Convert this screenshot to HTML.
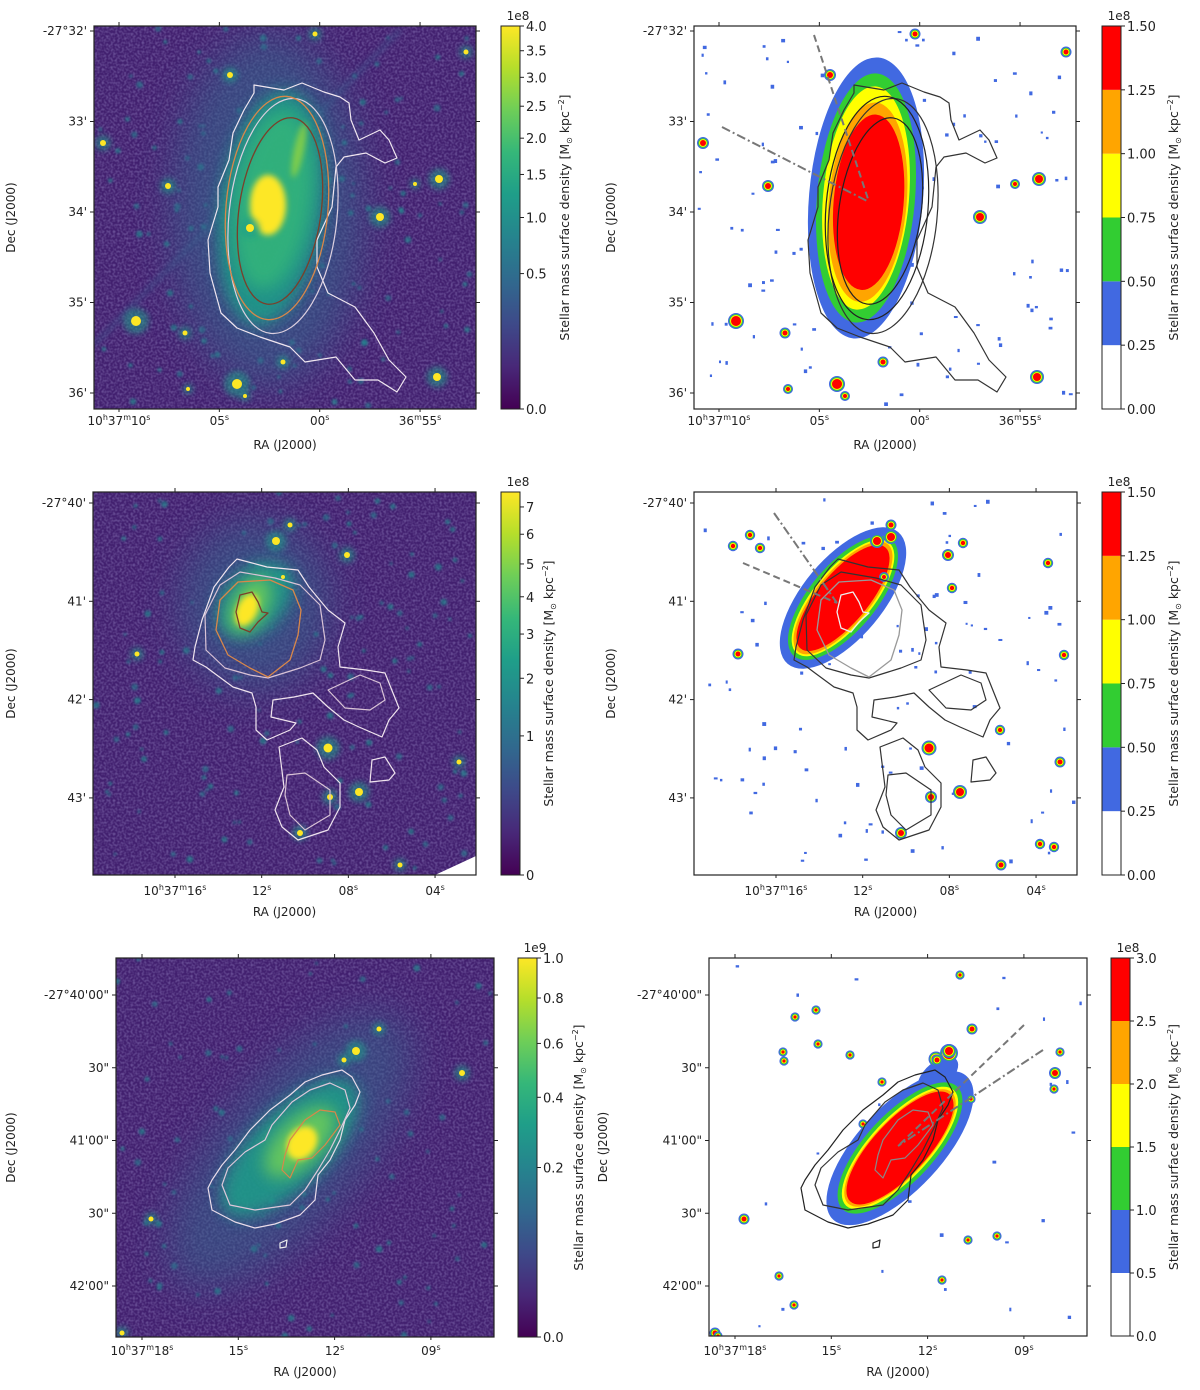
<!DOCTYPE html>
<html><head><meta charset="utf-8"><title>Stellar mass surface density maps</title>
<style>
html,body{margin:0;padding:0;background:#fff;}
svg{display:block;font-family:"DejaVu Sans","Liberation Sans",sans-serif;}
</style></head>
<body>
<svg id="fig" xmlns="http://www.w3.org/2000/svg" width="1200" height="1390" viewBox="0 0 1200 1390">
<defs>
<filter id="b1" x="-50%" y="-50%" width="200%" height="200%"><feGaussianBlur stdDeviation="1.2"/></filter>
<filter id="b3" x="-50%" y="-50%" width="200%" height="200%"><feGaussianBlur stdDeviation="3"/></filter>
<filter id="b8" x="-50%" y="-50%" width="200%" height="200%"><feGaussianBlur stdDeviation="8"/></filter>
<filter id="b20" x="-80%" y="-80%" width="260%" height="260%"><feGaussianBlur stdDeviation="20"/></filter>
<filter id="noise"><feTurbulence type="fractalNoise" baseFrequency="0.45" numOctaves="1" seed="3"/><feColorMatrix type="matrix" values="0 0 0 0 0.27  0 0 0 0 0.2  0 0 0 0 0.5  0 0 0 -1.2 0.75"/></filter>
<linearGradient id="viridis" x1="0" y1="1" x2="0" y2="0">
<stop offset="0" stop-color="#440154"/><stop offset="0.11" stop-color="#482878"/><stop offset="0.22" stop-color="#3e4989"/><stop offset="0.33" stop-color="#31688e"/><stop offset="0.44" stop-color="#26828e"/><stop offset="0.56" stop-color="#1f9e89"/><stop offset="0.67" stop-color="#35b779"/><stop offset="0.78" stop-color="#6ece58"/><stop offset="0.89" stop-color="#b5de2b"/><stop offset="1" stop-color="#fde725"/>
</linearGradient>
</defs>
</svg>
<script>
// ---- colorbar data ----
const cb1Ticks=[0,0.5,1.0,1.5,2.0,2.5,3.0,3.5,4.0];
const cb1Labels=["0.0","0.5","1.0","1.5","2.0","2.5","3.0","3.5","4.0"];
const cb1Max=4.0;
const cb2Ticks=[0,0.25,0.5,0.75,1.0,1.25,1.5];
const cb2Labels=["0.00","0.25","0.50","0.75","1.00","1.25","1.50"];
const cb3Ticks=[0,1,2,3,4,5,6,7];
const cb3Labels=["0","1","2","3","4","5","6","7"];
const cb3Max=7.58;
const cb4Ticks=[0,0.25,0.5,0.75,1.0,1.25,1.5];
const cb4Labels=["0.00","0.25","0.50","0.75","1.00","1.25","1.50"];
const cb5Ticks=[0,0.2,0.4,0.6,0.8,1.0];
const cb5Labels=["0.0","0.2","0.4","0.6","0.8","1.0"];
const cb5Max=1.0;
const cb6Ticks=[0,0.5,1.0,1.5,2.0,2.5,3.0];
const cb6Labels=["0.0","0.5","1.0","1.5","2.0","2.5","3.0"];
const bandColors=["#ffffff","#4169e1","#32cd32","#ffff00","#ffa500","#ff0000"];
// ---- axis tick data ----
const decTicksA=[32,33,34,35,36];
const decLabelsA=["-27°32'","33'","34'","35'","36'"];
const raTicksA=[10,5,0,-5];
const raLabelsA=["10h37m10s","05s","00s","36m55s"];
const decTicksB=[40,41,42,43];
const decLabelsB=["-27°40'","41'","42'","43'"];
const raTicksB=[16,12,8,4];
const raLabelsB=["10h37m16s","12s","08s","04s"];
const decTicksC=[0,30,60,90,120];
const decLabelsC=["-27°40'00\"","30\"","41'00\"","30\"","42'00\""];
const raTicksC=[18,15,12,9];
const raLabelsC=["10h37m18s","15s","12s","09s"];

const NS="http://www.w3.org/2000/svg";
const svg=document.getElementById('fig');
function el(tag,attrs,parent){const e=document.createElementNS(NS,tag);for(const k in attrs)e.setAttribute(k,attrs[k]);(parent||svg).appendChild(e);return e;}
function txt(x,y,s,attrs,parent){const t=el('text',Object.assign({x:x,y:y,'font-size':12,fill:'#222'},attrs||{}),parent);t.textContent=s;return t;}
function raText(x,y,s,parent){
  const t=el('text',{x:x,y:y,'font-size':12,fill:'#222','text-anchor':'middle'},parent);
  
  
  let buf='',sup=false;
  const flush=()=>{if(!buf)return;const ts=el('tspan',{},t);ts.textContent=buf;buf='';};
  for(const c of s){
    if('hms'.includes(c)){flush();const ts=el('tspan',{dy:-5,'font-size':8},t);ts.textContent=c;sup=true;}
    else{ if(sup){flush();const ts=el('tspan',{dy:5},t);ts.textContent=c;sup=false;} else buf+=c; }
  }
  flush();return t;
}
let seed=12345;function rnd(){seed=(seed*1103515245+12345)%2147483648;return seed/2147483648;}

function axesFrame(g,box,decT,decL,decScale,raT,raL,raScale,labelX,raLabelY,raTickY){
  el('rect',{x:box.x0,y:box.y0,width:box.x1-box.x0,height:box.y1-box.y0,fill:'none',stroke:'#222','stroke-width':1.2},g);
  decT.forEach((d,i)=>{
    const y=decScale(d);
    const l=el('line',{x1:box.x0-4,x2:box.x0,y1:y,y2:y,stroke:'#222'},g);
    
    
    el('line',{x1:box.x1,x2:box.x1+4,y1:y,y2:y,stroke:'#222'},g);
    const t=txt(box.x0-7,y+4,decL[i],{'text-anchor':'end'},g);
    
    
  });
  raT.forEach((r,i)=>{
    const x=raScale(r);
    const l=el('line',{x1:x,x2:x,y1:box.y0-4,y2:box.y0,stroke:'#222'},g);
    
    
    el('line',{x1:x,x2:x,y1:box.y1,y2:box.y1+3,stroke:'#222'},g);
    raText(x,raTickY,raL[i],g);
  });
  const ra=txt((box.x0+box.x1)/2,raLabelY,'RA (J2000)',{'text-anchor':'middle'},g);
  
  
  const dy=(box.y0+box.y1)/2;
  const de=txt(labelX,dy,'Dec (J2000)',{'text-anchor':'middle',transform:`rotate(-90 ${labelX} ${dy})`},g);
  
  
}

function colorbar(g,cb,ticks,labels,scale,expo,labelX,discrete,vmax){
  const h=cb.y1-cb.y0;
  if(discrete){
    const n=bandColors.length;
    bandColors.forEach((c,i)=>{
      const yTop=scale(vmax*(i+1)/n), yBot=scale(vmax*i/n);
      const r=el('rect',{x:cb.x0,y:yTop,width:cb.x1-cb.x0,height:yBot-yTop,fill:c},g);
      
      
    });
  } else {
    el('rect',{x:cb.x0,y:cb.y0,width:cb.x1-cb.x0,height:h,fill:'url(#viridis)'},g);
  }
  el('rect',{x:cb.x0,y:cb.y0,width:cb.x1-cb.x0,height:h,fill:'none',stroke:'#222','stroke-width':1},g);
  ticks.forEach((v,i)=>{
    const y=scale(v);
    const l=el('line',{x1:cb.x1,x2:cb.x1+4,y1:y,y2:y,stroke:'#222'},g);
    
    
    const t=txt(cb.x1+6,y+5,labels[i],{'font-size':13},g);
    
    
  });
  const e=txt(cb.x1-2,cb.y0-6,expo,{'text-anchor':'middle','font-size':12},g);
  
  
  const cy=(cb.y0+cb.y1)/2;
  const t=el('text',{x:labelX,y:cy,'font-size':12.5,fill:'#222','text-anchor':'middle',transform:`rotate(-90 ${labelX} ${cy})`},g);
  
  
  const a=el('tspan',{},t);a.textContent='Stellar mass surface density [M';
  const b=el('tspan',{'font-size':8,dy:3},t);b.textContent='⊙';
  const c=el('tspan',{dy:-3},t);c.textContent=' kpc';
  const d=el('tspan',{'font-size':8,dy:-5},t);d.textContent='−2';
  const f=el('tspan',{dy:5},t);f.textContent=']';
}
function sqrtScale(cb,vmax){return v=>cb.y1-Math.sqrt(v/vmax)*(cb.y1-cb.y0);}
function linScale(cb,vmax){return v=>cb.y1-(v/vmax)*(cb.y1-cb.y0);}

function clipFor(id,box){const cp=el('clipPath',{id:id},svg.querySelector('defs'));el('rect',{x:box.x0,y:box.y0,width:box.x1-box.x0,height:box.y1-box.y0},cp);return `url(#${id})`;}

function skyImage(g,box,nFaint){
  el('rect',{x:box.x0,y:box.y0,width:box.x1-box.x0,height:box.y1-box.y0,fill:'#42206f'},g);
  el('rect',{x:box.x0,y:box.y0,width:box.x1-box.x0,height:box.y1-box.y0,filter:'url(#noise)'},g);
  for(let i=0;i<nFaint;i++){
    const x=box.x0+rnd()*(box.x1-box.x0),y=box.y0+rnd()*(box.y1-box.y0);
    el('circle',{cx:x,cy:y,r:1.5+rnd()*2,fill:rnd()<0.5?'#2a788e':'#23888e',opacity:0.7,filter:'url(#b1)'},g);
  }
}
function star(g,x,y,r){
  el('circle',{cx:x,cy:y,r:r*2.6,fill:'#1f9e89',opacity:0.55,filter:'url(#b3)'},g);
  el('circle',{cx:x,cy:y,r:r,fill:'#fde725'},g);
}
function discStar(g,x,y,r){
  el('circle',{cx:x,cy:y,r:r+3,fill:'#4169e1'},g);
  el('circle',{cx:x,cy:y,r:r+1.8,fill:'#32cd32'},g);
  el('circle',{cx:x,cy:y,r:r+0.9,fill:'#ffff00'},g);
  el('circle',{cx:x,cy:y,r:r,fill:'#ff0000'},g);
}
function specks(g,box,n){
  for(let i=0;i<n;i++){
    const x=box.x0+3+rnd()*(box.x1-box.x0-6),y=box.y0+3+rnd()*(box.y1-box.y0-6);
    el('rect',{x:x,y:y,width:2+rnd()*2,height:2+rnd()*2,fill:'#4169e1'},g);
  }
}
function poly(g,pts,stroke,w,dx){
  const d='M'+pts.map(p=>(p[0]+(dx||0))+','+p[1]).join('L')+'Z';
  const p=el('path',{d:d,fill:'none',stroke:stroke,'stroke-width':w||1.2,'stroke-linejoin':'round'},g);
  
  
  return p;
}
function bands(g,cx,cy,rot,sizes){
  const cols=["#4169e1","#32cd32","#ffff00","#ffa500","#ff0000"];
  sizes.forEach((s,i)=>{
    const e=el('ellipse',{cx:cx+(s[2]||0),cy:cy+(s[3]||0),rx:s[0],ry:s[1],fill:cols[i],transform:`rotate(${rot} ${cx} ${cy})`},g);
    
    
  });
}

// ---------------- Row 1 ----------------
const contourA=[[254,85],[284,90],[302,83],[324,92],[340,97],[349,103],[351,120],[359,140],[380,130],[389,140],[397,158],[385,163],[366,153],[344,157],[336,167],[332,207],[317,240],[317,267],[328,293],[355,307],[374,333],[389,360],[406,377],[397,392],[378,380],[355,380],[336,357],[305,362],[290,347],[260,337],[237,328],[221,313],[210,273],[208,240],[218,207],[218,187],[229,160],[233,133],[244,110],[254,93]];
const starsA=[[237,384,5],[437,377,4],[439,179,4],[380,217,4],[168,186,3],[136,321,5],[230,75,3],[103,143,3],[315,34,2.5],[185,333,2.5],[283,362,2.5],[188,389,2],[245,396,2],[466,52,2.5],[415,184,2]];
(function(){
  const box={x0:94,y0:26,x1:476,y1:409};
  const g=el('g',{});
  const ig=el('g',{'clip-path':clipFor('c1',box)},g);
  skyImage(ig,box,120);
  el('line',{x1:94,y1:345,x2:400,y2:30,stroke:'#3b528b','stroke-width':5,opacity:0.5,filter:'url(#b3)'},ig);
  el('ellipse',{cx:268,cy:210,rx:95,ry:175,fill:'#31688e',opacity:0.55,filter:'url(#b20)'},ig);
  el('ellipse',{cx:272,cy:208,rx:52,ry:118,fill:'#1f9e89',opacity:0.85,filter:'url(#b8)',transform:'rotate(8 272 208)'},ig);
  el('ellipse',{cx:272,cy:200,rx:38,ry:90,fill:'#35b779',opacity:0.8,filter:'url(#b8)',transform:'rotate(8 272 208)'},ig);
  el('ellipse',{cx:268,cy:205,rx:18,ry:30,fill:'#fde725',filter:'url(#b3)'},ig);
  el('ellipse',{cx:299,cy:150,rx:5,ry:28,fill:'#9fd938',opacity:0.7,filter:'url(#b3)',transform:'rotate(12 299 150)'},ig);
  star(ig,250,228,4);
  starsA.forEach(s=>star(ig,s[0],s[1],s[2]));
  poly(ig,contourA,'#f0e6f0',1.2);
  el('ellipse',{cx:283,cy:216,rx:54,ry:118,fill:'none',stroke:'#ddd0e0','stroke-width':1.2,transform:'rotate(6 283 216)'},ig);
  el('ellipse',{cx:277,cy:208,rx:51,ry:112,fill:'none',stroke:'#d8874a','stroke-width':1.3,transform:'rotate(5 277 208)'},ig);
  el('ellipse',{cx:280,cy:211,rx:41,ry:94,fill:'none',stroke:'#7a3f2a','stroke-width':1.3,transform:'rotate(8 280 211)'},ig);
  axesFrame(g,box,decTicksA,decLabelsA,d=>31+90.5*(d-32),raTicksA,raLabelsA,s=>119+20.07*(10-s),15,449,425);
  const cb={x0:501,y0:26,x1:520,y1:409};
  colorbar(g,cb,cb1Ticks,cb1Labels,sqrtScale(cb,cb1Max),'1e8',569,false);
})();
(function(){
  const box={x0:694,y0:26,x1:1076,y1:409};
  const g=el('g',{});
  const ig=el('g',{'clip-path':clipFor('c2',box)},g);
  el('rect',{x:box.x0,y:box.y0,width:382,height:383,fill:'#fff'},ig);
  specks(ig,box,110);
  bands(ig,866,198,5,[[57,141],[49,125],[43,112],[39,100,2,4],[35,88,3,4]]);
  starsA.forEach(s=>discStar(ig,s[0]+600,s[1],s[2]));
  poly(ig,contourA,'#333',1.2,600);
  el('ellipse',{cx:883,cy:216,rx:54,ry:118,fill:'none',stroke:'#333','stroke-width':1.2,transform:'rotate(6 883 216)'},ig);
  el('ellipse',{cx:877,cy:208,rx:51,ry:112,fill:'none',stroke:'#222','stroke-width':1.2,transform:'rotate(5 877 208)'},ig);
  el('ellipse',{cx:880,cy:211,rx:41,ry:94,fill:'none',stroke:'#222','stroke-width':1.2,transform:'rotate(8 880 211)'},ig);
  const l1=el('path',{d:'M814,35L869,202',stroke:'#777','stroke-width':2,'stroke-dasharray':'7,4',fill:'none'},ig);
  
  
  const l2=el('path',{d:'M722,127L869,202',stroke:'#777','stroke-width':2,'stroke-dasharray':'9,3,2,3',fill:'none'},ig);
  
  
  axesFrame(g,box,decTicksA,decLabelsA,d=>31+90.5*(d-32),raTicksA,raLabelsA,s=>719+20.07*(10-s),615,449,425);
  const cb={x0:1102,y0:26,x1:1121,y1:409};
  colorbar(g,cb,cb2Ticks,cb2Labels,linScale(cb,1.5),'1e8',1178,true,1.5);
})();

// ---------------- Row 2 ----------------
const contourB1=[[237,559],[267,567],[298,570],[309,587],[328,610],[345,623],[338,647],[340,667],[366,670],[385,673],[393,693],[399,708],[389,720],[382,737],[359,727],[344,720],[328,707],[313,693],[294,697],[273,700],[271,717],[296,723],[290,730],[267,740],[256,730],[256,707],[252,693],[233,687],[214,673],[206,667],[193,660],[195,647],[202,620],[214,587],[229,567]];
const contourB2=[[279,747],[302,738],[317,750],[324,767],[340,783],[340,807],[328,830],[298,840],[282,827],[275,810],[284,787]];
const contourB3=[[372,760],[385,757],[395,773],[389,780],[370,782]];
const contourB4=[[240,572],[275,578],[300,585],[320,605],[325,640],[320,660],[300,668],[268,678],[250,675],[225,668],[206,650],[205,615],[220,585]];
const contourB5=[[328,690],[360,675],[380,683],[385,700],[370,710],[345,708]];
const contourB6=[[287,775],[305,773],[330,790],[330,815],[305,830],[290,815],[285,795]];
const contourOrange=[[238,582],[270,580],[293,590],[301,610],[298,635],[290,660],[268,677],[250,668],[228,655],[216,630],[220,600]];
const contourBrown=[[240,595],[252,592],[258,602],[262,612],[268,613],[258,622],[250,632],[240,628],[236,612]];
const starsB=[[276,541,4],[290,525,2.5],[347,555,3],[328,748,4.5],[359,792,4],[300,833,3],[137,654,2.5],[330,797,3],[400,865,2.5],[459,762,2.5],[283,577,2]];
(function(){
  const box={x0:93,y0:492,x1:476,y1:875};
  const g=el('g',{});
  const ig=el('g',{'clip-path':clipFor('c3',box)},g);
  skyImage(ig,box,130);
  el('ellipse',{cx:255,cy:605,rx:75,ry:85,fill:'#31688e',opacity:0.55,filter:'url(#b20)'},ig);
  el('ellipse',{cx:255,cy:600,rx:45,ry:30,fill:'#1f9e89',opacity:0.85,filter:'url(#b8)',transform:'rotate(-45 255 600)'},ig);
  el('ellipse',{cx:250,cy:605,rx:30,ry:17,fill:'#6ece58',opacity:0.9,filter:'url(#b8)',transform:'rotate(-60 250 605)'},ig);
  el('ellipse',{cx:247,cy:610,rx:17,ry:10,fill:'#fde725',filter:'url(#b3)',transform:'rotate(-65 247 610)'},ig);
  starsB.forEach(s=>star(ig,s[0],s[1],s[2]));
  el('path',{d:'M435,875L476,856L476,875Z',fill:'#fff'},ig);
  [contourB1,contourB2,contourB3].forEach(c=>poly(ig,c,'#f0e4ee',1.2));
  [contourB4,contourB5,contourB6].forEach(c=>poly(ig,c,'#d9c3d6',1.2));
  poly(ig,contourOrange,'#d8874a',1.3);
  poly(ig,contourBrown,'#7a3f2a',1.3);
  axesFrame(g,box,decTicksB,decLabelsB,d=>503+98.3*(d-40),raTicksB,raLabelsB,s=>175+21.67*(16-s),15,916,895);
  const cb={x0:501,y0:492,x1:520,y1:875};
  colorbar(g,cb,cb3Ticks,cb3Labels,sqrtScale(cb,cb3Max),'1e8',553,false);
})();
(function(){
  const box={x0:694,y0:492,x1:1077,y1:875};
  const g=el('g',{});
  const ig=el('g',{'clip-path':clipFor('c4',box)},g);
  el('rect',{x:box.x0,y:box.y0,width:383,height:383,fill:'#fff'},ig);
  specks(ig,box,100);
  bands(ig,843,598,-50,[[86,40],[76,33],[72,29],[70,27],[66,25]]);
  discStar(ig,891,537,4);
  starsB.forEach(s=>discStar(ig,s[0]+601,s[1],s[2]));
  [[750,535],[733,546],[760,548],[963,543],[952,588],[1048,563],[1000,730],[1064,655],[1040,844],[1054,847]].forEach(p=>discStar(ig,p[0],p[1],2.2));
  [contourB1,contourB2,contourB3,contourB4,contourB5,contourB6].forEach(c=>poly(ig,c,'#333',1.2,601));
  poly(ig,contourOrange,'#999',1.3,601);
  poly(ig,contourBrown,'#eee',1.3,601);
  const l1=el('path',{d:'M774,513L837,603',stroke:'#777','stroke-width':2,'stroke-dasharray':'9,3,2,3',fill:'none'},ig);
  
  
  const l2=el('path',{d:'M743,563L837,603',stroke:'#777','stroke-width':2,'stroke-dasharray':'7,4',fill:'none'},ig);
  
  
  axesFrame(g,box,decTicksB,decLabelsB,d=>503+98.3*(d-40),raTicksB,raLabelsB,s=>776+21.67*(16-s),615,916,895);
  const cb={x0:1102,y0:492,x1:1121,y1:875};
  colorbar(g,cb,cb4Ticks,cb4Labels,linScale(cb,1.5),'1e8',1178,true,1.5);
})();

// ---------------- Row 3 ----------------
const contourC1=[[208,1188],[212,1210],[235,1222],[255,1228],[275,1224],[300,1215],[315,1200],[318,1175],[330,1160],[340,1140],[345,1120],[355,1105],[360,1092],[352,1077],[342,1070],[322,1075],[305,1082],[290,1095],[270,1110],[250,1130],[235,1150],[222,1165],[212,1180]];
const contourC2=[[222,1185],[230,1205],[255,1210],[290,1205],[305,1190],[318,1170],[330,1150],[340,1130],[350,1108],[345,1090],[330,1083],[310,1090],[292,1102],[272,1125],[265,1140],[245,1152],[228,1168]];
const contourC3=[[282,1170],[290,1178],[298,1160],[312,1158],[325,1145],[340,1125],[335,1112],[320,1110],[305,1120],[290,1140],[285,1155]];
const contourC4=[[280,1243],[287,1240],[286,1247],[280,1248]];
const starsC=[[356,1051,4],[379,1029,2.5],[462,1073,3],[151,1219,2.5],[122,1333,2.5],[344,1060,2.5]];
(function(){
  const box={x0:116,y0:958,x1:494,y1:1337};
  const g=el('g',{});
  const ig=el('g',{'clip-path':clipFor('c5',box)},g);
  skyImage(ig,box,90);
  el('ellipse',{cx:290,cy:1150,rx:170,ry:70,fill:'#31688e',opacity:0.5,filter:'url(#b20)',transform:'rotate(-50 290 1150)'},ig);
  el('ellipse',{cx:290,cy:1148,rx:90,ry:38,fill:'#1f9e89',opacity:0.85,filter:'url(#b8)',transform:'rotate(-45 290 1148)'},ig);
  el('ellipse',{cx:300,cy:1142,rx:45,ry:22,fill:'#6ece58',opacity:0.85,filter:'url(#b8)',transform:'rotate(-45 300 1142)'},ig);
  el('ellipse',{cx:302,cy:1143,rx:18,ry:14,fill:'#fde725',filter:'url(#b3)',transform:'rotate(-55 302 1143)'},ig);
  starsC.forEach(s=>star(ig,s[0],s[1],s[2]));
  poly(ig,contourC1,'#eadcea',1.2);
  poly(ig,contourC2,'#ddc8da',1.2);
  poly(ig,contourC3,'#d8874a',1.2);
  poly(ig,contourC4,'#eee',1.2);
  axesFrame(g,box,decTicksC,decLabelsC,d=>995+2.425*d,raTicksC,raLabelsC,s=>142+32.1*(18-s),15,1376,1355);
  const cb={x0:518,y0:958,x1:537,y1:1337};
  colorbar(g,cb,cb5Ticks,cb5Labels,sqrtScale(cb,cb5Max),'1e9',583,false);
})();
(function(){
  const box={x0:709,y0:958,x1:1087,y1:1336};
  const g=el('g',{});
  const ig=el('g',{'clip-path':clipFor('c6',box)},g);
  el('rect',{x:box.x0,y:box.y0,width:378,height:378,fill:'#fff'},ig);
  specks(ig,box,25);
  el('ellipse',{cx:938,cy:1075,rx:24,ry:13,fill:'#4169e1',transform:'rotate(-40 938 1075)'},ig);
  bands(ig,900,1148,-47,[[98,42],[84,34],[79,30],[76,28],[73,27]]);
  discStar(ig,949,1053,6);discStar(ig,936,1059,4.5);
  starsC.forEach(s=>discStar(ig,s[0]+593,s[1],s[2]));
  [[718,1336],[795,1017],[818,1044],[816,1010],[783,1052],[784,1061],[850,1055],[882,1082],[863,1124],[960,975],[971,1099],[1054,1089],[1060,1052],[794,1305],[779,1276],[942,1280],[968,1240],[997,1236],[787,1341]].forEach(p=>discStar(ig,p[0],p[1],1.6));
  poly(ig,contourC1,'#222',1.2,593);
  poly(ig,contourC2,'#333',1.2,593);
  poly(ig,contourC3,'#888',1.2,593);
  poly(ig,contourC4,'#222',1.2,593);
  const l1=el('path',{d:'M1024,1025L898,1146',stroke:'#777','stroke-width':2,'stroke-dasharray':'7,4',fill:'none'},ig);
  
  
  const l2=el('path',{d:'M1043,1050L898,1146',stroke:'#777','stroke-width':2,'stroke-dasharray':'9,3,2,3',fill:'none'},ig);
  
  
  axesFrame(g,box,decTicksC,decLabelsC,d=>995+2.425*d,raTicksC,raLabelsC,s=>735+32.1*(18-s),607,1376,1355);
  const cb={x0:1111,y0:958,x1:1130,y1:1336};
  colorbar(g,cb,cb6Ticks,cb6Labels,linScale(cb,3.0),'1e8',1178,true,3.0);
})();
</script>
</body></html>
